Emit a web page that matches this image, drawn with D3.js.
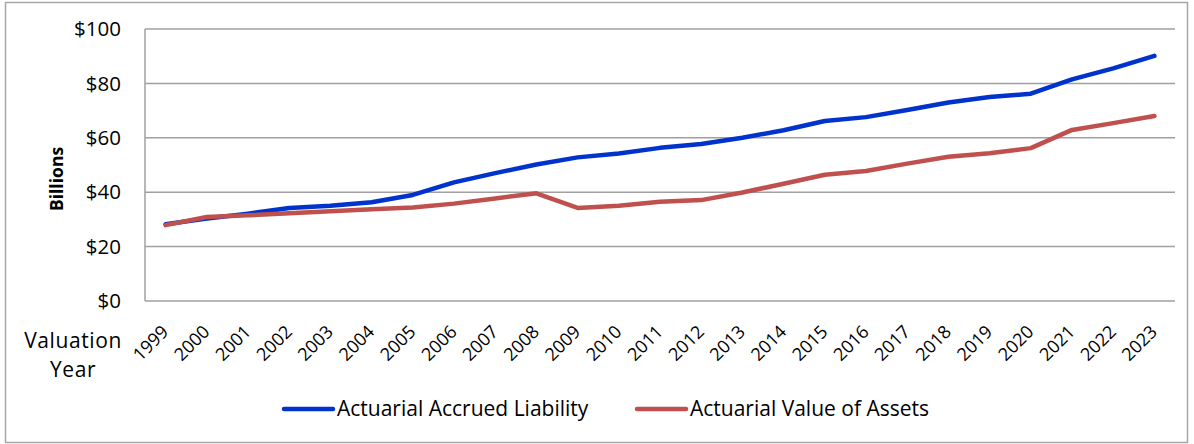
<!DOCTYPE html>
<html><head><meta charset="utf-8">
<script src="https://cdn.jsdelivr.net/npm/d3@7"></script>
<style>body{margin:0;background:#fff}svg{display:block}text{font-family:"Open Sans",Lato,sans-serif;fill:#000}</style>
</head><body><div id="chart"></div>
<script>
const years = ["1999","2000","2001","2002","2003","2004","2005","2006","2007","2008","2009","2010","2011","2012","2013","2014","2015","2016","2017","2018","2019","2020","2021","2022","2023"];
const liability = [28.2,30.3,32.1,34.2,35,36.3,39,43.6,47,50.2,52.8,54.2,56.3,57.7,60,62.8,66.2,67.6,70.2,73,75,76.2,81.5,85.5,90.1];
const assets = [27.9,30.9,31.5,32.3,33,33.7,34.4,35.8,37.7,39.6,34.2,35,36.5,37.1,39.9,43.1,46.4,47.8,50.5,53,54.3,56.2,62.9,65.4,68];
const yTicks = [0,20,40,60,80,100];
const seriesNames = ["Actuarial Accrued Liability","Actuarial Value of Assets"];
const colors = ["#0033cc","#c0504d"];

const W=1194,H=444;
const svg=d3.select("#chart").append("svg").attr("width",W).attr("height",H);
svg.append("rect").attr("x",5.5).attr("y",2.5).attr("width",1182).attr("height",440).attr("fill","#fff").attr("stroke","#a6a6a6").attr("stroke-width",1.5);

const L=145,R=1175,T=29,B=301;
const x=d3.scaleBand().domain(years).range([L,R]);
const y=d3.scaleLinear().domain([0,100]).range([B,T]);

svg.append("g").selectAll("line").data(yTicks).join("line")
 .attr("x1",L).attr("x2",R).attr("y1",d=>y(d)).attr("y2",d=>y(d))
 .attr("stroke","#a0a0a0").attr("stroke-width",1.5);
svg.append("line").attr("x1",L).attr("x2",L).attr("y1",T).attr("y2",B).attr("stroke","#a0a0a0").attr("stroke-width",1.5);

svg.append("g").selectAll("text").data(yTicks).join("text")
 .attr("x",121).attr("y",d=>y(d)).attr("dy","0.35em").attr("text-anchor","end")
 .attr("font-size",20.5).text(d=>"$"+d);

svg.append("text").attr("transform","translate(63,179) rotate(-90)").attr("text-anchor","middle")
 .attr("font-size",17.5).attr("font-weight","bold").text("Billions");

svg.append("g").selectAll("text").data(years).join("text")
 .attr("transform",d=>`translate(${x(d)+x.bandwidth()/2+4},${333}) rotate(-45)`)
 .attr("text-anchor","end").attr("font-size",18).text(d=>d);

svg.append("text").attr("x",73).attr("y",348).attr("text-anchor","middle").attr("font-size",21).attr("letter-spacing",0.6).text("Valuation");
svg.append("text").attr("x",73).attr("y",377).attr("text-anchor","middle").attr("font-size",21).attr("letter-spacing",0.6).text("Year");

const line=d3.line().x((d,i)=>x(years[i])+x.bandwidth()/2).y(d=>y(d));
[liability,assets].forEach((s,i)=>{
 svg.append("path").datum(s).attr("d",line).attr("fill","none").attr("stroke",colors[i])
  .attr("stroke-width",4.5).attr("stroke-linejoin","round").attr("stroke-linecap","round");
});

const legX=[284,637];
seriesNames.forEach((n,i)=>{
 svg.append("line").attr("x1",legX[i]).attr("x2",legX[i]+49).attr("y1",409).attr("y2",409)
  .attr("stroke",colors[i]).attr("stroke-width",4.5).attr("stroke-linecap","round");
 svg.append("text").attr("x",legX[i]+53).attr("y",409).attr("dy","0.35em").attr("font-size",21).text(n);
});
</script></body></html>
